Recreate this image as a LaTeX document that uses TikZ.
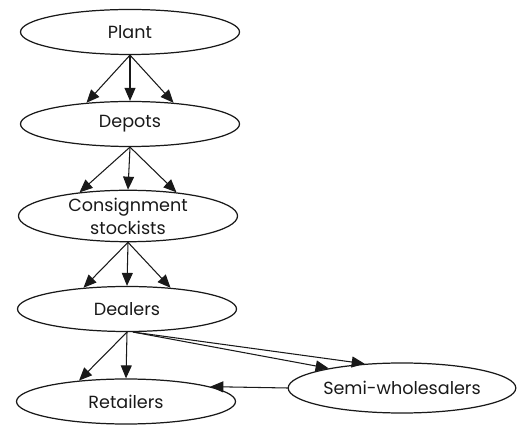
\documentclass[tikz,border=0pt]{standalone}
\usepackage{fontspec}
\setmainfont{Poppins}
\usetikzlibrary{arrows.meta,shapes.geometric}
\definecolor{ChainInk}{gray}{0.10}
\tikzset{
    chain/diagram/.style={
        font=\normalsize,
        draw=ChainInk,
        text=ChainInk,
        line width=0.7pt,
        line cap=round,
        line join=round
    },
    chain/stage/.style={
        ellipse, draw=ChainInk, line width=0.7pt,
        minimum width=4.38cm, minimum height=0.9cm,
        align=center, inner sep=1pt
    },
    chain/flow/.style={
        draw=ChainInk, line width=0.6pt,
        -{Triangle[length=2.6mm, width=2.2mm]}
    }
}
\begin{document}
\begin{tikzpicture}[chain/diagram]
    \useasboundingbox (0,0) rectangle (10.4,-8.5);
    \node[chain/stage] (Plant) at (2.6,-0.64) {Plant};
    \node[chain/stage] (Depots) at (2.6,-2.48) {Depots};
    \node[chain/stage, minimum height=0.95cm, inner sep=0pt] (Consignment)
        at (2.56,-4.32) {Consignment\\[1pt]stockists};
    \node[chain/stage] (Dealers) at (2.54,-6.18) {Dealers};
    \node[chain/stage] (Retailers) at (2.52,-8.03) {Retailers};
    \node[chain/stage, minimum width=4.3cm, minimum height=1.0cm]
        (Semi) at (8.04,-7.76) {Semi-wholesalers};
    % three flows between each pair of stacked stages
    \foreach \from/\to in {Plant/Depots, Depots/Consignment, Consignment/Dealers}{
        \draw[chain/flow] (\from.south) -- (\to.154);
        \draw[chain/flow] (\from.south) -- (\to.north);
        \draw[chain/flow] (\from.south) -- (\to.26);
    }
    \draw[chain/flow] (Dealers.south) -- (Retailers.156);
    \draw[chain/flow] (Dealers.south) -- (Retailers.north);
    \draw[chain/flow] (Dealers.-75) -- (Semi.147);
    \draw[chain/flow] (Dealers.-75) -- (Semi.165);
    \draw[chain/flow] (Semi.west) -- (Retailers.10);
\end{tikzpicture}
\end{document}
